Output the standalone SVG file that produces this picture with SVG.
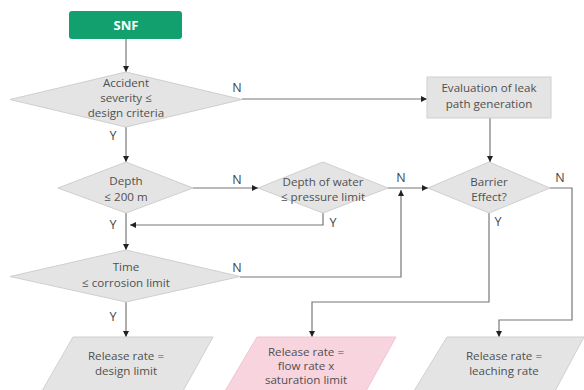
<svg xmlns="http://www.w3.org/2000/svg" width="584" height="390" viewBox="0 0 584 390">
<style>
.shape{fill:#e4e4e4;stroke:#cfcfcf;stroke-width:1}
.pink{fill:#f8d4df;stroke:#f0c4d2;stroke-width:1}
.t{font-family:"Open Sans","Liberation Sans",sans-serif;font-size:11.6px;fill:#505050;text-anchor:middle}
.lbl{font-family:"Open Sans","Liberation Sans",sans-serif;font-size:12.5px;fill:#444;text-anchor:middle}
.c{fill:none;stroke:#777;stroke-width:1.2}
</style>
<defs>
<marker id="ah" viewBox="0 0 10 10" refX="10" refY="5" markerWidth="6" markerHeight="6" orient="auto" markerUnits="userSpaceOnUse">
<path d="M0,0 L10,5 L0,10 z" fill="#222"/>
</marker>
</defs>
<rect width="584" height="390" fill="#fff"/>
<g id="connectors">
<path class="c" d="M126,39 V72" marker-end="url(#ah)"/>
<path class="c" d="M242,99 H427" marker-end="url(#ah)"/>
<path class="c" d="M126,127 V162" marker-end="url(#ah)"/>
<path class="c" d="M490,118 V162" marker-end="url(#ah)"/>
<path class="c" d="M193,188 H258" marker-end="url(#ah)"/>
<path class="c" d="M388,188 H428" marker-end="url(#ah)"/>
<path class="c" d="M323,213 V225 H130" marker-end="url(#ah)"/>
<path class="c" d="M126,213 V250" marker-end="url(#ah)"/>
<path class="c" d="M240,277 H401 V190" marker-end="url(#ah)"/>
<path class="c" d="M550,188 H572 V320 H499 V337" marker-end="url(#ah)"/>
<path class="c" d="M489,213 V302 H312 V337" marker-end="url(#ah)"/>
<path class="c" d="M126,302 V337" marker-end="url(#ah)"/>
<text class="lbl" x="237" y="92">N</text>
<text class="lbl" x="113" y="140">Y</text>
<text class="lbl" x="237" y="184">N</text>
<text class="lbl" x="401" y="182">N</text>
<text class="lbl" x="333" y="227">Y</text>
<text class="lbl" x="560" y="182">N</text>
<text class="lbl" x="498" y="226">Y</text>
<text class="lbl" x="113" y="229">Y</text>
<text class="lbl" x="237" y="272">N</text>
<text class="lbl" x="113" y="321">Y</text>
</g>
<g id="snf">
<rect x="69" y="11" width="113" height="28" rx="3" fill="#13a06f"/>
<text x="126" y="30" text-anchor="middle" font-family="'Open Sans','Liberation Sans',sans-serif" font-size="13" font-weight="bold" fill="#fff">SNF</text>
</g>
<g id="accident">
<polygon class="shape" points="126,72 242,99.5 126,127 10,99.5"/>
<text class="t" x="126" y="87">Accident</text>
<text class="t" x="126" y="102">severity ≤</text>
<text class="t" x="126" y="117">design criteria</text>
</g>
<g id="evaluation">
<rect class="shape" x="427" y="77" width="124" height="41"/>
<text class="t" x="489" y="92">Evaluation of leak</text>
<text class="t" x="489" y="108">path generation</text>
</g>
<g id="depth">
<polygon class="shape" points="126,162 193,188 126,213 58,188"/>
<text class="t" x="126" y="185">Depth</text>
<text class="t" x="126" y="201">≤ 200 m</text>
</g>
<g id="water">
<polygon class="shape" points="323,162 388,188 323,213 258,188"/>
<text class="t" x="323" y="186">Depth of water</text>
<text class="t" x="323" y="201">≤ pressure limit</text>
</g>
<g id="barrier">
<polygon class="shape" points="489,162 550,188 489,213 428,188"/>
<text class="t" x="489" y="186">Barrier</text>
<text class="t" x="489" y="201">Effect?</text>
</g>
<g id="time">
<polygon class="shape" points="126,250 240,276.5 126,302 10,276.5"/>
<text class="t" x="126" y="271">Time</text>
<text class="t" x="126" y="287">≤ corrosion limit</text>
</g>
<g id="design-limit">
<polygon class="shape" points="73,337 213,337 183,391 42,391"/>
<text class="t" x="126" y="360">Release rate =</text>
<text class="t" x="126" y="375">design limit</text>
</g>
<g id="saturation">
<polygon class="pink" points="257,337 396,337 366,391 225,391"/>
<text class="t" x="306" y="356">Release rate =</text>
<text class="t" x="306" y="370">flow rate x</text>
<text class="t" x="306" y="384">saturation limit</text>
</g>
<g id="leaching">
<polygon class="shape" points="447,337 584,337 555,391 414,391"/>
<text class="t" x="504" y="360">Release rate =</text>
<text class="t" x="504" y="375">leaching rate</text>
</g>
</svg>
